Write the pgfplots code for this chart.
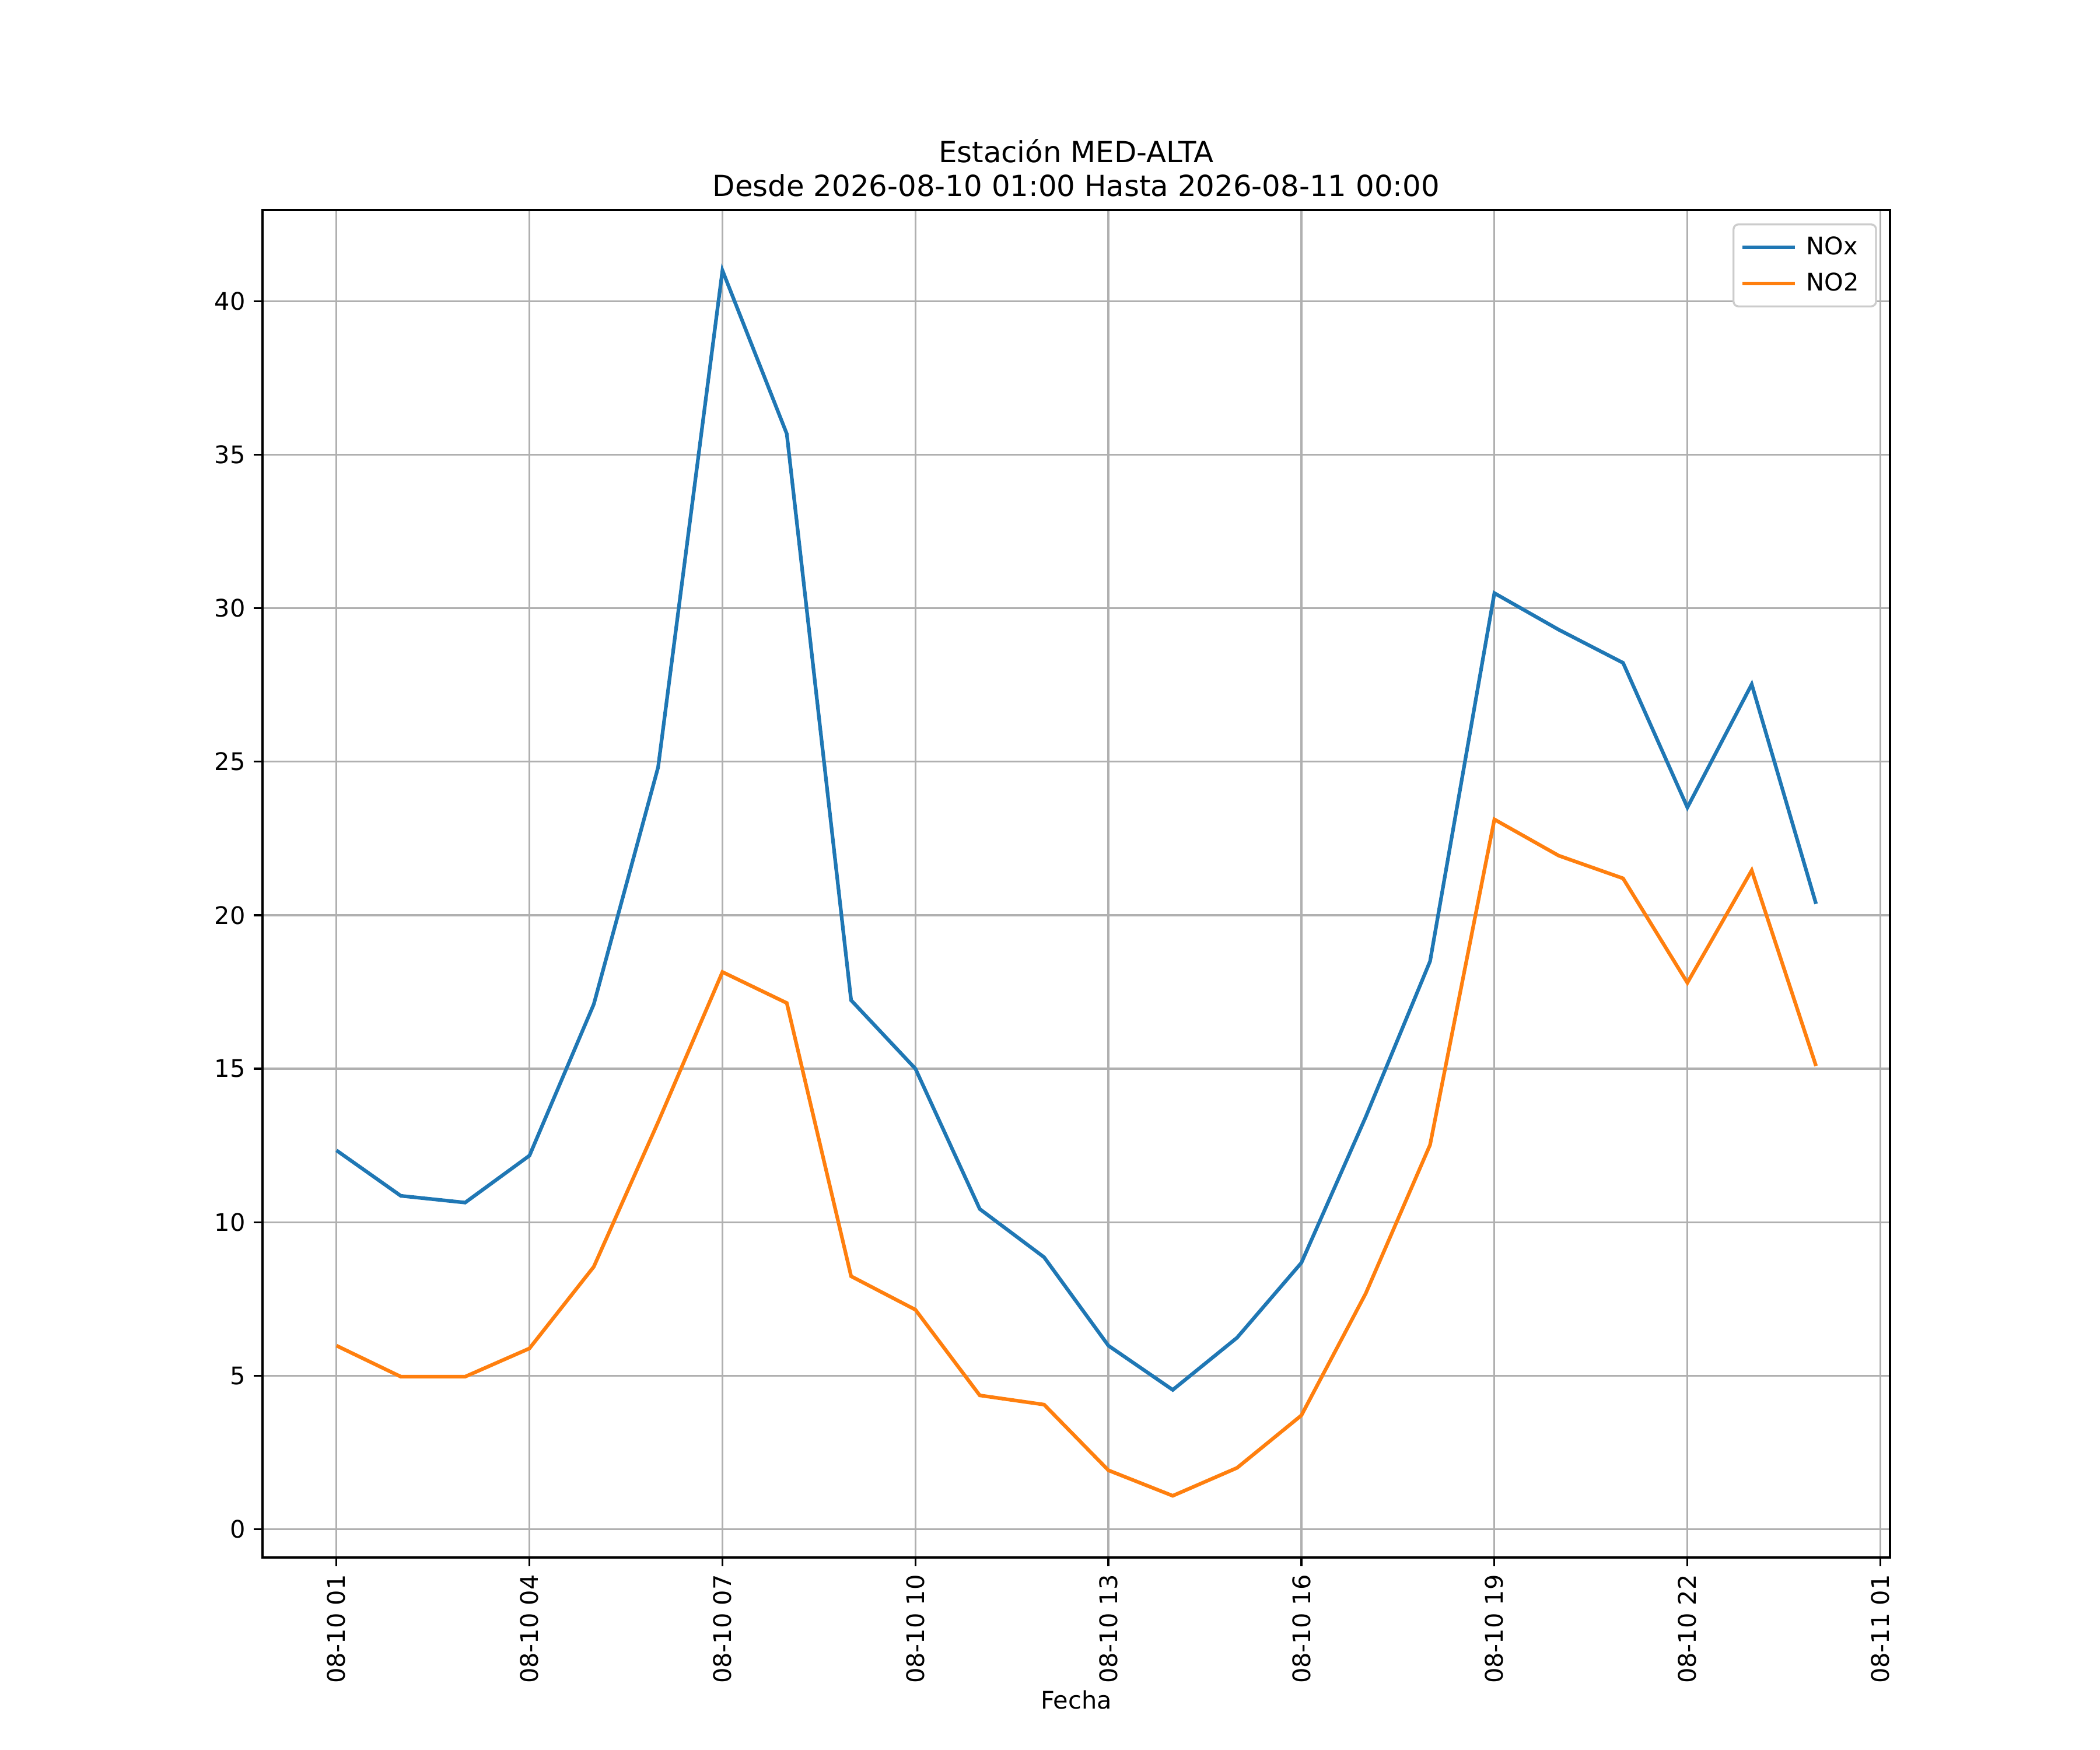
\documentclass[border=0pt]{standalone}
\usepackage{fontspec}
\setmainfont{DejaVu Sans}
\usepackage{pgfplots}
\pgfplotsset{compat=1.18}
\definecolor{tabblue}{HTML}{1F77B4}
\definecolor{taborange}{HTML}{FF7F0E}
\definecolor{gridgray}{HTML}{B0B0B0}
\begin{document}
\begin{tikzpicture}
\useasboundingbox (0,0) rectangle (12in,10in);
\begin{axis}[
  at={(1.5in,1.1in)}, anchor=south west,
  scale only axis, width=9.3in, height=7.7in,
  xmin=-0.15, xmax=25.15, ymin=-0.92, ymax=42.97,
  axis line style={line width=0.8pt},
  xtick={1,4,7,10,13,16,19,22,25},
  xticklabels={08-10 01,08-10 04,08-10 07,08-10 10,08-10 13,08-10 16,08-10 19,08-10 22,08-11 01},
  ytick={0,5,10,15,20,25,30,35,40},
  x tick label style={rotate=90, anchor=east, font=\fontsize{10}{12}\selectfont},
  y tick label style={font=\fontsize{10}{12}\selectfont},
  /pgf/number format/assume math mode=true,
  tick align=outside, tick pos=left,
  major tick length=3.5pt,
  tick style={line width=0.8pt, black},
  grid=major,
  major grid style={line width=0.8pt, gridgray},
  xlabel={Fecha},
  xlabel style={font=\fontsize{10}{12}\selectfont, yshift=4pt},
  title={Estación MED-ALTA\\Desde 2026-08-10 01:00 Hasta 2026-08-11 00:00},
  title style={align=center, font=\fontsize{12}{14}\selectfont, yshift=-4pt},
  legend style={font=\fontsize{10}{12}\selectfont, draw=black!20, rounded corners=2pt, line width=0.8pt, inner sep=3pt, row sep=2pt, at={(0.992,0.99)}, anchor=north east,
    nodes={inner xsep=4pt}},
  legend cell align=left,
  legend image code/.code={\draw[#1] (0cm,0cm) -- (0.76cm,0cm);},
]
\addplot[tabblue, line width=1.5pt] coordinates {
(1,12.34) (2,10.86) (3,10.64) (4,12.17) (5,17.1) (6,24.82) (7,41.0) (8,35.68)
(9,17.23) (10,15.0) (11,10.43) (12,8.86) (13,5.98) (14,4.54) (15,6.24) (16,8.68)
(17,13.43) (18,18.5) (19,30.49) (20,29.3) (21,28.22) (22,23.51) (23,27.52) (24,20.37)
};
\addlegendentry{NOx}
\addplot[taborange, line width=1.5pt] coordinates {
(1,5.98) (2,4.97) (3,4.97) (4,5.89) (5,8.55) (6,13.26) (7,18.15) (8,17.14)
(9,8.24) (10,7.15) (11,4.36) (12,4.06) (13,1.92) (14,1.09) (15,2.0) (16,3.71)
(17,7.68) (18,12.52) (19,23.12) (20,21.94) (21,21.2) (22,17.8) (23,21.46) (24,15.09)
};
\addlegendentry{NO2}
\end{axis}
\end{tikzpicture}
\end{document}
